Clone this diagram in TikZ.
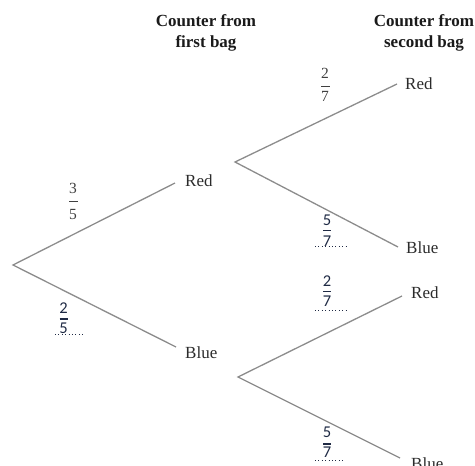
\documentclass[tikz,border=0pt]{standalone}
\usepackage{fontspec}
\setmainfont{Liberation Serif}
\newfontfamily\carlito{Carlito}
\definecolor{linegray}{HTML}{8C8C8C}
\definecolor{labelgray}{HTML}{2B2B2B}
\definecolor{hdrcol}{HTML}{1A1A1A}
\definecolor{fracgray}{HTML}{404040}
\definecolor{fracnavy}{HTML}{1F2A44}
\begin{document}
\begin{tikzpicture}[x=1pt,y=-1pt,
  branch/.style={draw=linegray,line width=1.3pt},
  lbl/.style={anchor=west,inner sep=0,font=\fontsize{17}{20}\selectfont,text=labelgray},
  hdr/.style={anchor=north,inner sep=0,align=center,font=\fontsize{17}{21}\selectfont\bfseries,text=hdrcol},
  fser/.style={inner sep=0,font=\fontsize{15.5}{16}\selectfont,text=fracgray},
  fcal/.style={inner sep=0,font=\carlito\fontsize{16.5}{18}\selectfont,text=fracnavy},
  barser/.style={draw=fracgray,line width=0.9pt},
  barcal/.style={draw=fracnavy,line width=1.4pt},
  dotline/.style={draw=fracnavy,line width=1pt,dash pattern=on 1pt off 2.4pt}]
\useasboundingbox (0,0) rectangle (475,466);
\clip (0,0) rectangle (475,466);

% headers
\node[hdr] (h1) at (206,14) {Counter from\\first bag};
\node[hdr] (h2) at (424,14) {Counter from\\second bag};

% branch points
\coordinate (root) at (13,265);
\coordinate (r1) at (175,183);
\coordinate (b1) at (176,347);
\coordinate (r1s) at (235,162);
\coordinate (b1s) at (238,377);
\coordinate (rr) at (397,84);
\coordinate (rb) at (398,247);
\coordinate (br) at (402,296);
\coordinate (bb) at (400,458);

\draw[branch] (r1) -- (root) -- (b1);
\draw[branch] (rr) -- (r1s) -- (rb);
\draw[branch] (br) -- (b1s) -- (bb);

% outcome labels
\node[lbl] (tR1) at (185,181) {Red};
\node[lbl] (tB1) at (185,353) {Blue};
\node[lbl] (tRR) at (405,84) {Red};
\node[lbl] (tRB) at (406,248) {Blue};
\node[lbl] (tBR) at (411,292.5) {Red};
\node[lbl] (tBB) at (411,464) {Blue};

% given fractions
\node[fser] (n35) at (73,188.5) {3};
\node[fser] (d35) at (73,214.5) {5};
\draw[barser] (69,201) -- (77.5,201);

\node[fser] (n27a) at (325,73) {2};
\node[fser] (d27a) at (325,96) {7};
\draw[barser] (321,86) -- (329.5,86);

% filled-in fractions
\node[fcal] (n25) at (63.5,308) {2};
\node[fcal] (d25) at (63.5,328) {5};
\draw[barcal] (59.5,319) -- (67.5,319);
\draw[dotline] (55,334.5) -- (84,334.5);

\node[fcal] (n57a) at (327,220) {5};
\node[fcal] (d57a) at (327,241) {7};
\draw[barcal] (323,230.7) -- (331,230.7);
\draw[dotline] (315,246.7) -- (346,246.7);

\node[fcal] (n27b) at (327,281.5) {2};
\node[fcal] (d27b) at (327,301) {7};
\draw[barcal] (323,291.7) -- (331,291.7);
\draw[dotline] (315,310.7) -- (346,310.7);

\node[fcal] (n57b) at (327,432) {5};
\node[fcal] (d57b) at (327,452) {7};
\draw[barcal] (323,444) -- (331,444);
\draw[dotline] (315,460) -- (344,460);
\end{tikzpicture}
\end{document}
